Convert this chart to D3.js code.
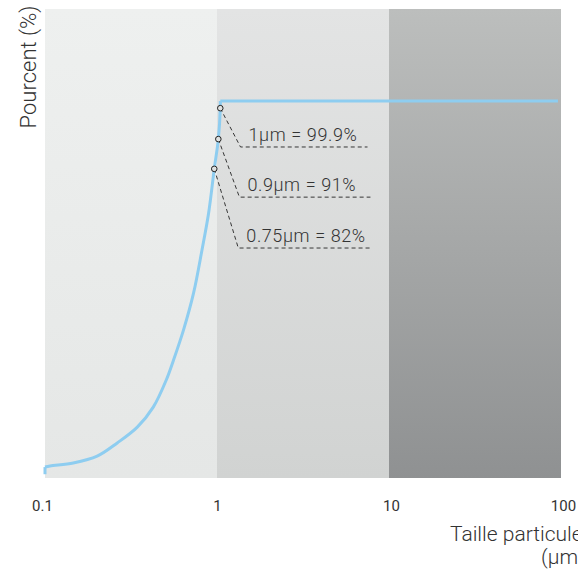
<!DOCTYPE html>
<html>
<head>
<meta charset="utf-8">
<script src="https://cdn.jsdelivr.net/npm/d3@7"></script>
<style>
  body { margin: 0; background: #fff; }
  text { font-family: Roboto, "Liberation Sans", sans-serif; font-weight: 300; fill: #333; }
</style>
</head>
<body>
<div id="chart"></div>
<script>
// particle size distribution (cumulative %)

const svgWidth = 578;
const svgHeight = 569;

// size bands (µm)
const bandEdges = [0.1, 1, 10, 100];
const bandTop = ["#eef0ef", "#e3e4e4", "#bcbebd"];
const bandBottom = ["#e5e7e6", "#d1d3d2", "#8f9192"];

// x tick labels
const tickValues = [0.1, 1, 10, 100];
const tickLabels = ["0.1", "1", "10", "100"];

// curve: size (µm) and cumulative percent
const stubSize = [0.1, 0.1];
const stubPct = [1.0, 2.9];
const curveSize = [0.1, 0.107, 0.146, 0.201, 0.263, 0.344, 0.426, 0.507, 0.559, 0.639, 0.731, 0.818, 0.894, 0.964, 1.018, 1.045, 1.045];
const curvePct  = [2.9, 3.2, 4.0, 5.8, 9.3, 13.5, 18.8, 26.0, 31.3, 39.3, 49.1, 60.5, 70.3, 82.0, 89.9, 98.1, 100];
const plateauSize = [1.045, 96];
const plateauPct = [100, 100];

// marked points and their labels
const markSize = [1.045, 1.018, 0.964];
const markPct = [98.1, 89.9, 82.0];
const markLabels = ["1µm = 99.9%", "0.9µm = 91%", "0.75µm = 82%"];
// where each leader line bends (µm, %) and ends (µm)
const leaderSize = [1.37, 1.35, 1.33];
const leaderPct = [87.8, 74.5, 61.0];
const leaderEnd = [7.5, 7.8, 7.8];

const margin = { top: 9, right: 17, bottom: 91, left: 45 };
const width = svgWidth - margin.left - margin.right;
const height = svgHeight - margin.top - margin.bottom;

const svg = d3.select("#chart")
    .append("svg")
    .attr("width", svgWidth)
    .attr("height", svgHeight);

const defs = svg.append("defs");
bandTop.forEach((c, i) => {
    const g = defs.append("linearGradient")
        .attr("id", "band" + i)
        .attr("x1", 0).attr("y1", 0).attr("x2", 0).attr("y2", 1);
    g.append("stop").attr("offset", "0%").attr("stop-color", c);
    g.append("stop").attr("offset", "100%").attr("stop-color", bandBottom[i]);
});

const chartGroup = svg.append("g")
    .attr("transform", `translate(${margin.left}, ${margin.top})`);

const x = d3.scaleLog().domain([0.1, 100]).range([0, width]);
// 100% sits well below the top edge
const y = d3.scaleLinear().domain([0, 100]).range([height, 92]);

// background bands
chartGroup.selectAll("rect.band")
    .data(d3.range(bandEdges.length - 1))
    .enter()
    .append("rect")
    .attr("class", "band")
    .attr("x", i => x(bandEdges[i]))
    .attr("width", i => x(bandEdges[i + 1]) - x(bandEdges[i]))
    .attr("y", 0)
    .attr("height", height)
    .attr("fill", i => `url(#band${i})`);

// x axis, labels only
const xAxis = chartGroup.append("g")
    .attr("transform", `translate(0, ${height})`)
    .call(d3.axisBottom(x)
        .tickValues(tickValues)
        .tickFormat((d, i) => tickLabels[i])
        .tickSize(0)
        .tickPadding(22));
xAxis.select(".domain").remove();
xAxis.selectAll("text")
    .style("font-size", "15px")
    .style("font-family", "Roboto, sans-serif")
    .style("font-weight", 400)
    .attr("fill", "#333");
xAxis.selectAll(".tick").filter(d => d === 0.1)
    .select("text").attr("dx", -3);
xAxis.selectAll(".tick").filter(d => d > 1)
    .select("text").attr("dx", 2);

// curve
const toPts = (sizes, pcts) => sizes.map((s, i) => [x(s), y(pcts[i])]);
const lineStyle = sel => sel
    .attr("fill", "none")
    .attr("stroke", "#8ecdf0")
    .attr("stroke-width", 3)
    .attr("stroke-linejoin", "round");

chartGroup.append("path")
    .attr("d", d3.line()(toPts(stubSize, stubPct)))
    .call(lineStyle);

chartGroup.append("path")
    .attr("d", d3.line().curve(d3.curveCatmullRom.alpha(0.5))(toPts(curveSize, curvePct)))
    .call(lineStyle);

chartGroup.append("path")
    .attr("d", d3.line()(toPts(plateauSize, plateauPct)))
    .call(lineStyle);

// leader lines
markSize.forEach((s, i) => {
    const pts = [
        [x(s), y(markPct[i])],
        [x(leaderSize[i]), y(leaderPct[i])],
        [x(leaderEnd[i]), y(leaderPct[i])]
    ];
    chartGroup.append("path")
        .attr("d", d3.line()(pts))
        .attr("fill", "none")
        .attr("stroke", "#222")
        .attr("stroke-width", 0.9)
        .attr("stroke-dasharray", "4,3");
});

chartGroup.selectAll("circle.mark")
    .data(markSize)
    .enter()
    .append("circle")
    .attr("class", "mark")
    .attr("cx", d => x(d))
    .attr("cy", (d, i) => y(markPct[i]))
    .attr("r", 2.8)
    .attr("fill", "#dfe1e0")
    .attr("stroke", "#222")
    .attr("stroke-width", 1);

chartGroup.selectAll("text.mark")
    .data(markLabels)
    .enter()
    .append("text")
    .attr("class", "mark")
    .attr("x", (d, i) => x(leaderSize[i]) + 8)
    .attr("y", (d, i) => y(leaderPct[i]) - 6)
    .style("font-size", "18px")
    .style("letter-spacing", "0.6px")
    .text(d => d);

// axis titles
svg.append("text")
    .attr("transform", "rotate(-90)")
    .attr("x", -67)
    .attr("y", 36)
    .attr("text-anchor", "middle")
    .style("font-size", "22px")
    .text("Pourcent (%)");

svg.append("text")
    .attr("x", 450)
    .attr("y", 541)
    .style("font-size", "21px")
    .text("Taille particule");

svg.append("text")
    .attr("x", 541)
    .attr("y", 564)
    .style("font-size", "21px")
    .text("(µm)");
</script>
</body>
</html>
